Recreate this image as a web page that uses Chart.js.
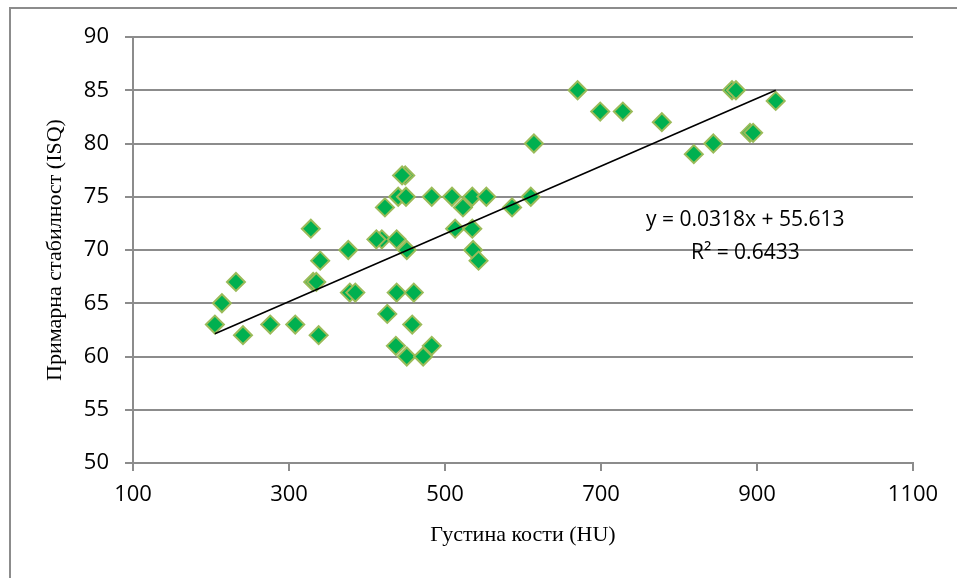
<!DOCTYPE html>
<html>
<head>
<meta charset="utf-8">
<script src="https://cdn.jsdelivr.net/npm/chart.js@4/dist/chart.umd.min.js"></script>
<style>
  html, body { margin: 0; padding: 0; background: #fff; }
  #wrap { position: relative; width: 957px; height: 578px; }
</style>
</head>
<body>
<div id="wrap"><canvas id="chart" width="957" height="578"></canvas></div>
<script>
// bone density (HU) and primary stability (ISQ)
const density = [205, 214, 232, 241, 276, 308, 338, 328, 340, 331, 335, 376, 378, 385, 419,
  449, 445, 440, 450, 423, 483, 509, 523, 535, 553, 586, 610, 412, 438, 451, 513, 535, 536, 543,
  438, 460, 426, 458, 437, 451, 472, 483,
  670, 699, 728, 778, 614, 868, 873, 924, 891, 895, 844, 819];
const isq = [63, 65, 67, 62, 63, 63, 62, 72, 69, 67, 67, 70, 66, 66, 71,
  77, 77, 75, 75, 74, 75, 75, 74, 75, 75, 74, 75, 71, 71, 70, 72, 72, 70, 69,
  66, 66, 64, 63, 61, 60, 60, 61,
  85, 83, 83, 82, 80, 85, 85, 84, 81, 81, 80, 79];

// linear trend given on the chart
const slope = 0.0318;
const intercept = 55.613;
const r2 = 0.6433;
const eqLines = ['y = ' + slope + 'x + ' + intercept, 'R² = ' + r2];

const xTitle = 'Густина кости (HU)';
const yTitle = 'Примарна стабилност (ISQ)';

const points = density.map((d, i) => ({ x: d, y: isq[i] }));
const xMin = Math.min(...density), xMax = Math.max(...density);
const trend = [xMin, xMax].map(x => ({ x: x, y: slope * x + intercept }));

const gridColor = '#8c8c8c';

const frame = {
  id: 'frame',
  beforeDraw(chart) {
    const ctx = chart.ctx;
    ctx.save();
    ctx.fillStyle = '#fff';
    ctx.fillRect(0, 0, chart.width, chart.height);
    ctx.strokeStyle = '#8c8c8c';
    ctx.lineWidth = 2;
    ctx.strokeRect(10, 8, 1000, 1000);
    ctx.restore();
  }
};

const equation = {
  id: 'equation',
  afterDatasetsDraw(chart) {
    const ctx = chart.ctx;
    const x = chart.scales.x.getPixelForValue(885);
    const y = chart.scales.y.getPixelForValue(72.8);
    ctx.save();
    ctx.fillStyle = '#000';
    ctx.font = '21px "Open Sans"';
    ctx.textAlign = 'center';
    ctx.textBaseline = 'middle';
    ctx.fillText(eqLines[0], x, y);
    ctx.fillText(eqLines[1], x, y + 33);
    ctx.restore();
  }
};

new Chart(document.getElementById('chart'), {
  type: 'scatter',
  data: {
    datasets: [
      {
        label: 'ISQ',
        data: points,
        pointStyle: 'rectRot',
        pointRadius: 9,
        pointHoverRadius: 9,
        backgroundColor: '#00b050',
        borderColor: '#9bbb59',
        borderWidth: 2,
        order: 2
      },
      {
        label: 'trend',
        type: 'line',
        data: trend,
        borderColor: '#000',
        borderWidth: 1.6,
        pointRadius: 0,
        fill: false,
        order: 1
      }
    ]
  },
  options: {
    responsive: false,
    animation: false,
    layout: { padding: { left: 0, top: 37, right: 44, bottom: 0 } },
    plugins: { legend: { display: false }, tooltip: { enabled: false } },
    scales: {
      x: {
        type: 'linear',
        min: 100,
        max: 1100,
        afterFit(s) { s.height = 115; },
        ticks: { stepSize: 200, color: '#000', padding: 11, callback: v => String(v),
          font: { family: 'Open Sans', size: 22 } },
        grid: { drawOnChartArea: false, drawTicks: true, tickLength: 8, color: gridColor, lineWidth: 2 },
        border: { color: gridColor, width: 2 },
        title: { display: true, text: xTitle, color: '#000', padding: { bottom: 30 },
          font: { family: 'Liberation Serif', size: 22 } }
      },
      y: {
        min: 50,
        max: 90,
        afterFit(s) { s.width = 133; },
        ticks: { stepSize: 5, color: '#000', padding: 16, font: { family: 'Open Sans', size: 22 } },
        grid: { color: gridColor, lineWidth: 2, tickLength: 8 },
        border: { color: gridColor, width: 2 },
        title: { display: true, text: yTitle, color: '#000', padding: { top: 42 },
          font: { family: 'Liberation Serif', size: 22 } }
      }
    }
  },
  plugins: [frame, equation]
});
</script>
</body>
</html>
